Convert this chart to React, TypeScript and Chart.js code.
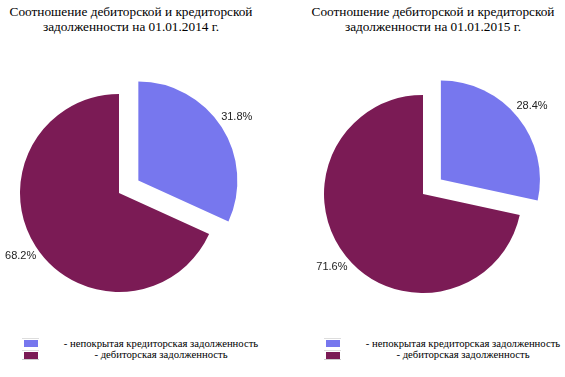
import React, { useEffect, useRef } from "react";
import { Chart, registerables } from "chart.js";

Chart.register(...registerables);

const categories = ["непокрытая кредиторская задолженность", "дебиторская задолженность"];
const values2014 = [31.8, 68.2];
const values2015 = [28.4, 71.6];
const titles = [
  ["Соотношение дебиторской и кредиторской", "задолженности на 01.01.2014 г."],
  ["Соотношение дебиторской и кредиторской", "задолженности на 01.01.2015 г."],
];
const colors = ["#7777EE", "#7B1B55"];
const explode = [23, 0];

const explodePlugin = {
  id: "explode",
  afterDatasetsUpdate(chart: any) {
    const meta = chart.getDatasetMeta(0);
    meta.data.forEach((arc: any, i: number) => {
      const d = explode[i] || 0;
      if (!d) return;
      const mid = (arc.startAngle + arc.endAngle) / 2;
      arc.x += Math.cos(mid) * d;
      arc.y += Math.sin(mid) * d;
    });
  },
};

const labelPlugin = {
  id: "pctLabels",
  afterDatasetsDraw(chart: any) {
    const ctx = chart.ctx;
    const meta = chart.getDatasetMeta(0);
    const ds = chart.data.datasets[0];
    ctx.save();
    ctx.font = "11px 'Liberation Sans', Arial, sans-serif";
    ctx.fillStyle = "#222";
    ctx.textAlign = "center";
    ctx.textBaseline = "middle";
    meta.data.forEach((arc: any, i: number) => {
      const mid = (arc.startAngle + arc.endAngle) / 2;
      const d = arc.outerRadius + 18;
      const x = arc.x + Math.cos(mid) * d;
      const y = arc.y + Math.sin(mid) * d;
      ctx.fillText(ds.data[i].toFixed(1) + "%", x, y);
    });
    ctx.restore();
  },
};

function Pie({ values, left, top }: { values: number[]; left: number; top: number }) {
  const ref = useRef<HTMLCanvasElement>(null);
  useEffect(() => {
    const chart = new Chart(ref.current!, {
      type: "pie",
      data: {
        labels: categories,
        datasets: [
          {
            data: values,
            backgroundColor: colors,
            borderWidth: 0,
          } as any,
        ],
      },
      options: {
        animation: false,
        responsive: false,
        radius: 99,
        layout: { padding: 0 },
        plugins: { legend: { display: false }, tooltip: { enabled: false }, title: { display: false } },
      } as any,
      plugins: [explodePlugin, labelPlugin],
    });
    return () => chart.destroy();
  }, []);
  return (
    <canvas
      ref={ref}
      width={270}
      height={270}
      style={{ position: "absolute", left, top, width: 270, height: 270 }}
    />
  );
}

function Title({ lines, cx }: { lines: string[]; cx: number }) {
  return (
    <div
      style={{
        position: "absolute",
        left: cx - 140,
        top: 4,
        width: 280,
        textAlign: "center",
        fontFamily: "'Liberation Serif', 'Times New Roman', serif",
        fontSize: 13.3,
        lineHeight: "15px",
        color: "#000",
      }}
    >
      {lines.map((l, i) => (
        <div key={i}>{l}</div>
      ))}
    </div>
  );
}

function Legend({ swX, textCx }: { swX: number; textCx: number }) {
  return (
    <>
      {categories.map((c, i) => (
        <React.Fragment key={i}>
          <div
            style={{
              position: "absolute",
              left: swX - 2,
              top: 338 + i * 12,
              width: 17,
              height: 10,
              borderTop: "1px solid #ddd",
              borderBottom: i === 1 ? "1px solid #ccc" : "none",
              boxSizing: "border-box",
            }}
          />
          <div
            style={{
              position: "absolute",
              left: swX,
              top: 340 + i * 12,
              width: 14,
              height: 7,
              background: colors[i],
            }}
          />
          <div
            style={{
              position: "absolute",
              left: textCx - 140,
              top: 337 + i * 11,
              width: 280,
              textAlign: "center",
              fontFamily: "'Liberation Serif', 'Times New Roman', serif",
              fontSize: 10.7,
              lineHeight: "12px",
              color: "#000",
              whiteSpace: "nowrap",
            }}
          >
            {"- " + c}
          </div>
        </React.Fragment>
      ))}
    </>
  );
}

export default function App() {
  return (
    <div style={{ position: "fixed", left: 0, top: 0, width: 565, height: 377, background: "#fff", overflow: "hidden" }}>
      <Title lines={titles[0]} cx={131} />
      <Title lines={titles[1]} cx={433} />
      <Pie values={values2014} left={119 - 135} top={193 - 135} />
      <Pie values={values2015} left={423 - 135} top={194 - 135} />
      <Legend swX={24} textCx={161} />
      <Legend swX={326} textCx={463} />
    </div>
  );
}
